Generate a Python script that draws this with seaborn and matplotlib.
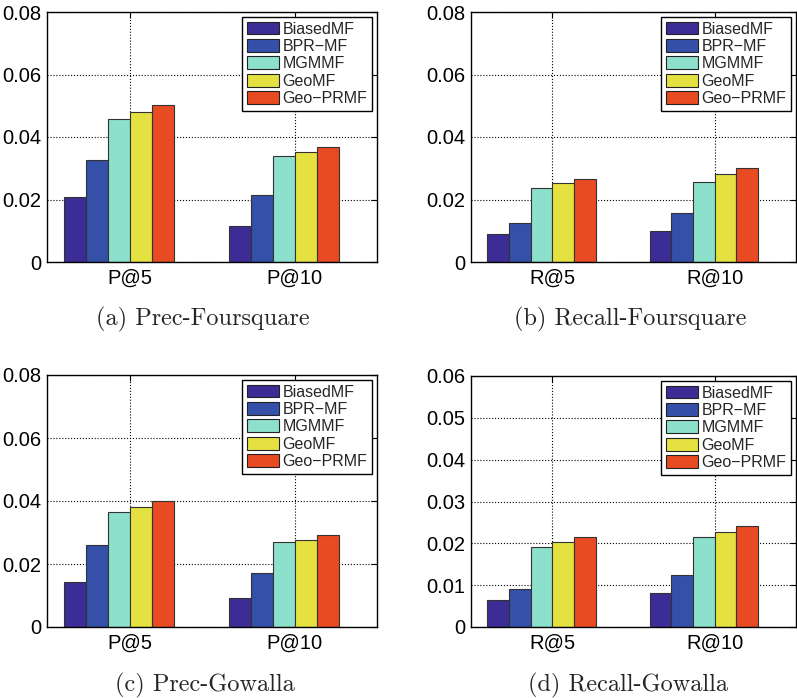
import pandas as pd
import seaborn as sns
import matplotlib.pyplot as plt
from matplotlib.patches import Patch

# methods and colours (legend order)
methods = ["BiasedMF", "BPR\u2212MF", "MGMMF", "GeoMF", "Geo\u2212PRMF"]
colors = ["#3c2c96", "#3450a8", "#8ce0cc", "#e4e141", "#e84a22"]

# values
prec_fsq_at5 = [0.0208, 0.0326, 0.0458, 0.0481, 0.0501]
prec_fsq_at10 = [0.0116, 0.0214, 0.0338, 0.0352, 0.0367]
recall_fsq_at5 = [0.0089, 0.0124, 0.0238, 0.0252, 0.0267]
recall_fsq_at10 = [0.0100, 0.0156, 0.0257, 0.0282, 0.0300]
prec_gow_at5 = [0.0144, 0.0260, 0.0364, 0.0381, 0.0400]
prec_gow_at10 = [0.0093, 0.0173, 0.0270, 0.0276, 0.0293]
recall_gow_at5 = [0.0065, 0.0092, 0.0191, 0.0202, 0.0216]
recall_gow_at10 = [0.0081, 0.0125, 0.0215, 0.0226, 0.0242]

yticks_08 = [0, 0.02, 0.04, 0.06, 0.08]
ylabels_08 = ["0", "0.02", "0.04", "0.06", "0.08"]
yticks_06 = [0, 0.01, 0.02, 0.03, 0.04, 0.05, 0.06]
ylabels_06 = ["0", "0.01", "0.02", "0.03", "0.04", "0.05", "0.06"]

panels = [
    ("(a) Prec-Foursquare", ["P@5", "P@10"], prec_fsq_at5, prec_fsq_at10, yticks_08, ylabels_08),
    ("(b) Recall-Foursquare", ["R@5", "R@10"], recall_fsq_at5, recall_fsq_at10, yticks_08, ylabels_08),
    ("(c) Prec-Gowalla", ["P@5", "P@10"], prec_gow_at5, prec_gow_at10, yticks_08, ylabels_08),
    ("(d) Recall-Gowalla", ["R@5", "R@10"], recall_gow_at5, recall_gow_at10, yticks_06, ylabels_06),
]

# axes boxes in pixels (left, right, top, bottom) of a 797x698 figure
W, H = 797, 698
boxes = [(47, 377, 12, 262), (471, 796, 12, 262), (47, 377, 375, 627), (471, 796, 376, 627)]
caption_x = [203, 630, 205, 628]
caption_y = [319, 319, 685, 685]

sns.set_style("white")
plt.rcParams["font.family"] = ["Liberation Sans", "DejaVu Sans"]

fig = plt.figure(figsize=(W / 100, H / 100), dpi=100)

# extra empty hue slot, like the matlab bar groups (6 slots, 5 drawn)
pad = "_pad"
hue_order = methods + [pad]
palette = dict(zip(methods, colors))
palette[pad] = "white"

for i, (caption, metrics, v1, v2, yt, yl) in enumerate(panels):
    l, r, t, b = boxes[i]
    ax = fig.add_axes([l / W, 1 - b / H, (r - l) / W, (b - t) / H])
    df = pd.DataFrame({
        "metric": [metrics[0]] * 5 + [metrics[1]] * 5,
        "method": methods + methods,
        "value": v1 + v2,
    })
    sns.barplot(data=df, x="metric", y="value", hue="method", hue_order=hue_order,
                order=metrics, palette=palette, width=0.8, edgecolor="#333333",
                linewidth=0.8, saturation=1, legend=False, ax=ax)
    ax.set_xlim(-0.5, 1.5)
    ax.set_ylim(yt[0], yt[-1])
    ax.set_yticks(yt)
    ax.set_yticklabels(yl)
    ax.set_xlabel("")
    ax.set_ylabel("")
    ax.grid(True, which="major", axis="both", color="black", linestyle=":", linewidth=0.8)
    ax.set_axisbelow(True)
    ax.tick_params(axis="both", direction="in", length=4, width=0.8, labelsize=14.5,
                   colors="black", top=True, right=True)
    ax.tick_params(axis="y", pad=4)
    ax.tick_params(axis="x", pad=5)
    for s in ax.spines.values():
        s.set_color("black")
        s.set_linewidth(1.0)
    handles = [Patch(facecolor=c, edgecolor="#222222", linewidth=0.8) for c in colors]
    leg = ax.legend(handles, methods, loc="upper right", fontsize=11.5, frameon=True,
                    fancybox=False, edgecolor="black", framealpha=1, borderpad=0.3,
                    labelspacing=0.15, handlelength=2.0, handleheight=0.85,
                    handletextpad=0.25, borderaxespad=0.3)
    leg.get_frame().set_linewidth(1.0)
    fig.text(caption_x[i] / W, 1 - caption_y[i] / H, caption, fontfamily="cmr10",
             fontsize=17.5, ha="center", va="center")

fig.savefig("out.png", dpi=100)
